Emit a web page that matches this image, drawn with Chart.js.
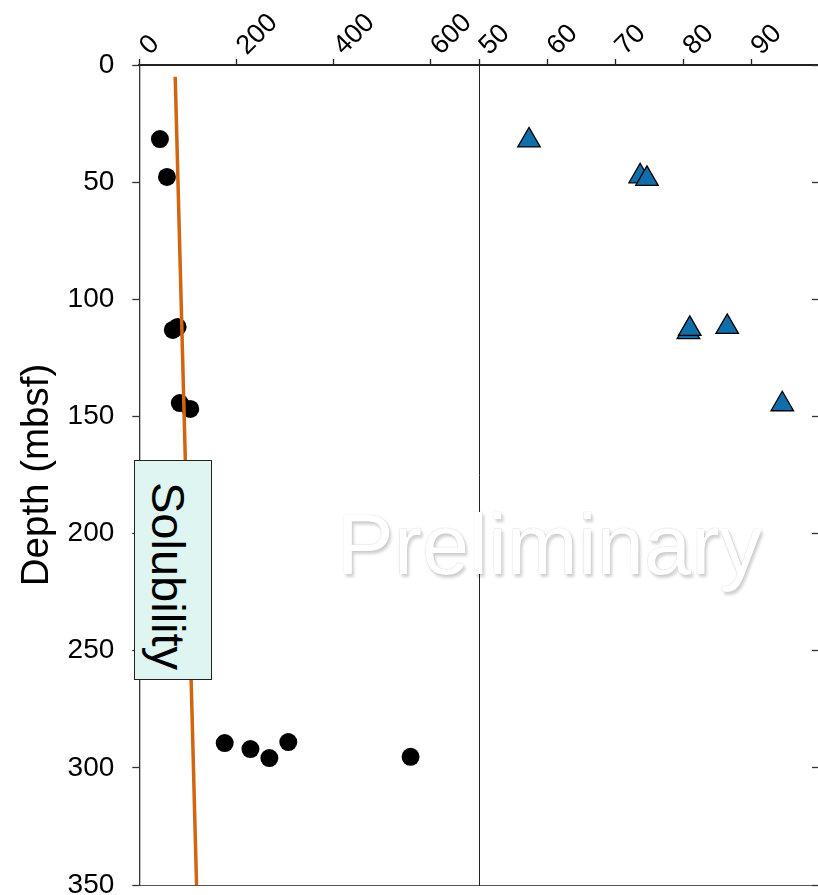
<!DOCTYPE html>
<html><head><meta charset="utf-8">
<script src="https://cdn.jsdelivr.net/npm/chart.js@4.4.0/dist/chart.umd.min.js"></script>
<style>
html,body{margin:0;padding:0;width:818px;height:895px;overflow:hidden;background:#fff;}
canvas{position:absolute;top:0;}
#c1{left:0;}
#c2{left:400px;}
#c3{left:790px;}
#sol{position:absolute;left:134px;top:460px;width:78px;height:220px;box-sizing:border-box;border:1.5px solid #222;background:#DFF5F1;display:flex;align-items:center;justify-content:center;}
#sol span{writing-mode:vertical-rl;font:47px "Liberation Sans",Arial,sans-serif;color:#000;transform:translate(-5px,6px);white-space:nowrap;}
#prelim{position:absolute;left:337px;top:502px;font:85px/1 "Liberation Sans",Arial,sans-serif;color:#fff;white-space:nowrap;
text-shadow:0 0 1px rgba(0,0,0,0.3),2px 3px 3px rgba(0,0,0,0.18);}
</style></head>
<body>
<canvas id="c1" width="509" height="930"></canvas>
<canvas id="c2" width="480" height="930"></canvas>
<canvas id="c3" width="300" height="930"></canvas>
<div id="sol"><span>Solubility</span></div>
<div id="prelim">Preliminary</div>
<script>
// ---- data ----
const circleX     = [42.5, 57, 69, 79, 83.5, 105, 176, 229, 268, 307, 559];
const circleDepth = [31.6, 47.8, 113.1, 111.8, 144.3, 146.8, 289.4, 292, 295.8, 289, 295.3];
const solubilityX     = [74, 118];
const solubilityDepth = [5, 350];
const triX     = [57.35, 73.7, 74.7, 80.8, 81.0, 86.5, 94.6];
const triDepth = [32.2, 47.5, 48.6, 114, 112.6, 111.8, 144.8];
const leftXTicks  = [0, 100, 200, 300, 400, 500, 600, 700];
const leftXLabels = ['0', '', '200', '', '400', '', '600', ''];
const rightXTicks  = [50, 60, 70, 80, 90, 100];
const rightXLabels = ['50', '60', '70', '80', '90', '100'];
const depthTicks  = [0, 50, 100, 150, 200, 250, 300, 350];
const depthLabels = ['0', '50', '100', '150', '200', '250', '300', '350'];
const yTitle = 'Depth (mbsf)';

const FAM = '"Liberation Sans", Arial, sans-serif';
const pts = (xs, ys) => xs.map((x, i) => ({x: x, y: ys[i]}));
const setTicks = vals => s => { s.ticks = vals.map(v => ({value: v})); };
const labelFrom = (vals, labels) => v => { const i = vals.indexOf(v); return i >= 0 ? labels[i] : ''; };

function depthAxis(extra) {
  return Object.assign({
    type: 'linear', position: 'left', reverse: true, min: 0, max: 350,
    afterBuildTicks: setTicks(depthTicks),
    grid: {drawOnChartArea: false, drawTicks: true, tickLength: 7, tickColor: '#333', tickWidth: 1.3},
    border: {display: true, color: '#333', width: 1.3}
  }, extra);
}
function bottomAxis(min, max) {
  return {
    type: 'linear', position: 'bottom', min: min, max: max,
    ticks: {display: false}, grid: {drawOnChartArea: false, drawTicks: false},
    border: {display: true, color: '#555', width: 1},
    afterFit: s => { s.height = 0; }
  };
}
function topTicks(vals, labels) {
  return {callback: labelFrom(vals, labels), minRotation: 45, maxRotation: 45, labelOffset: 28,
          font: {family: FAM, size: 27}, color: '#000', padding: -3};
}
const common = {
  responsive: false, animation: false, events: [],
  plugins: {legend: {display: false}, tooltip: {enabled: false}}
};

// ---- left panel ----
new Chart(document.getElementById('c1'), {
  type: 'scatter',
  data: {datasets: [
    {type: 'line', data: pts(solubilityX, solubilityDepth), borderColor: '#D2650F', borderWidth: 3.5,
     pointRadius: 0, fill: false, order: 0},
    {data: pts(circleX, circleDepth), pointRadius: 9, backgroundColor: '#000', borderWidth: 0, order: 1}
  ]},
  options: Object.assign({}, common, {
    layout: {padding: {top: 0, left: 0, right: 30, bottom: 45}},
    scales: {
      x: {type: 'linear', position: 'top', min: 0, max: 700,
          afterBuildTicks: setTicks(leftXTicks),
          ticks: topTicks(leftXTicks, leftXLabels),
          grid: {drawOnChartArea: false, drawTicks: true, tickLength: 6, tickColor: '#222', tickWidth: 1.3},
          border: {display: true, color: '#222', width: 2},
          afterFit: s => { s.height = 65; }},
      xb: bottomAxis(0, 700),
      y: depthAxis({
          ticks: {callback: labelFrom(depthTicks, depthLabels), font: {family: FAM, size: 28}, color: '#000', padding: 18},
          title: {display: true, text: yTitle, font: {family: FAM, size: 38.5}, color: '#000', padding: {top: 14, bottom: 0}},
          afterFit: s => { s.width = 139.3; }})
    }
  })
});

// ---- right panel ----
new Chart(document.getElementById('c2'), {
  type: 'scatter',
  data: {datasets: [
    {data: pts(triX, triDepth), pointStyle: 'triangle', pointRadius: 13, backgroundColor: '#106EAA',
     borderColor: '#000', borderWidth: 1.3}
  ]},
  options: Object.assign({}, common, {
    layout: {padding: {top: 0, left: 0, right: 61, bottom: 45}},
    scales: {
      x: {type: 'linear', position: 'top', min: 50, max: 100,
          afterBuildTicks: setTicks(rightXTicks),
          ticks: topTicks(rightXTicks, rightXLabels),
          grid: {drawOnChartArea: false, drawTicks: true, tickLength: 6, tickColor: '#222', tickWidth: 1.3},
          border: {display: true, color: '#222', width: 2},
          afterFit: s => { s.height = 65; }},
      xb: bottomAxis(50, 100),
      y: depthAxis({
          ticks: {display: false},
          grid: {drawOnChartArea: false, drawTicks: false},
          border: {display: true, color: '#222', width: 1},
          afterFit: s => { s.width = 79; }})
    }
  })
});

// ---- next panel (only its left edge is visible) ----
new Chart(document.getElementById('c3'), {
  type: 'scatter',
  data: {datasets: [{data: []}]},
  options: Object.assign({}, common, {
    layout: {padding: {top: 0, left: 0, right: 20, bottom: 45}},
    scales: {
      x: {type: 'linear', position: 'top', min: 0, max: 100,
          ticks: {display: false}, grid: {drawOnChartArea: false, drawTicks: false},
          border: {display: true, color: '#222', width: 2},
          afterFit: s => { s.height = 65; }},
      xb: bottomAxis(0, 100),
      y: depthAxis({
          ticks: {display: false},
          afterFit: s => { s.width = 29; }})
    }
  })
});
</script>
</body></html>
